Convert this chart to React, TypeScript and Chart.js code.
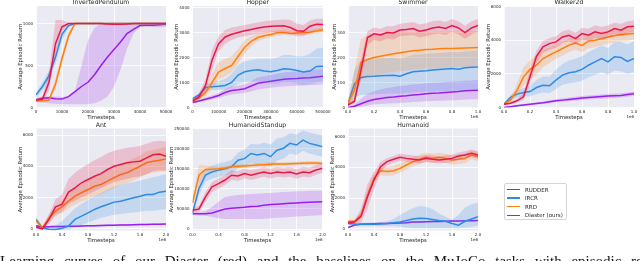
import React, { useEffect, useRef } from "react";
import { Chart, registerables } from "chart.js";
Chart.register(...registerables);

const METHODS = ["RUDDER", "IRCR", "RRD", "Diaster (ours)"];
const COLORS = ["#9A1EF0", "#2E8AE6", "#FF7F0E", "#E6194B"];
const BANDS = ["rgba(154,30,240,0.2)", "rgba(46,138,230,0.2)", "rgba(255,127,14,0.2)", "rgba(230,25,75,0.2)"];

// ---------- InvertedPendulum ----------
const ipX = [0, 2500, 5000, 7500, 10000, 12500, 15000, 17500, 20000, 22500, 25000, 27500, 30000, 32500, 35000, 37500, 40000, 42500, 45000, 47500, 50000];
const ipRudder = [90, 110, 115, 105, 100, 130, 190, 250, 300, 390, 500, 600, 690, 780, 880, 930, 975, 980, 980, 985, 990];
const ipRudderLo = [70, 60, 50, 45, 40, 40, 40, 40, 40, 50, 80, 130, 250, 450, 700, 880, 960, 960, 955, 955, 960];
const ipRudderHi = [110, 130, 135, 130, 125, 140, 200, 500, 800, 950, 1000, 1010, 1010, 1010, 1010, 1010, 1010, 1010, 1010, 1010, 1010];
const ipIrcr = [150, 250, 380, 600, 870, 975, 1000, 1000, 1000, 1000, 1000, 1000, 1000, 1000, 1000, 1000, 1000, 1000, 1000, 1000, 1000];
const ipIrcrLo = [120, 200, 320, 520, 800, 950, 995, 995, 995, 995, 995, 995, 995, 995, 995, 995, 995, 995, 995, 995, 995];
const ipIrcrHi = [180, 300, 440, 680, 940, 1000, 1005, 1005, 1005, 1005, 1005, 1005, 1005, 1005, 1005, 1005, 1005, 1005, 1005, 1005, 1005];
const ipRrd = [80, 80, 90, 280, 580, 850, 1000, 1000, 1000, 1000, 1000, 1000, 1000, 1000, 1000, 1000, 1000, 1000, 1000, 1000, 1000];
const ipRrdLo = [60, 60, 70, 220, 520, 800, 990, 995, 995, 995, 995, 995, 995, 995, 995, 995, 995, 995, 995, 995, 995];
const ipRrdHi = [100, 100, 110, 340, 640, 900, 1005, 1005, 1005, 1005, 1005, 1005, 1005, 1005, 1005, 1005, 1005, 1005, 1005, 1005, 1005];
const ipDia = [90, 100, 300, 760, 960, 1000, 1000, 1000, 1000, 1000, 1000, 995, 990, 990, 995, 1000, 1000, 1000, 1000, 1000, 1000];
const ipDiaLo = [70, 80, 200, 650, 920, 990, 995, 995, 995, 995, 995, 985, 980, 980, 985, 995, 995, 995, 995, 995, 995];
const ipDiaHi = [110, 130, 420, 1040, 1040, 1010, 1005, 1005, 1005, 1005, 1005, 1005, 1000, 1000, 1005, 1005, 1005, 1005, 1005, 1005, 1005];
const ipXTicks = [0, 10000, 20000, 30000, 40000, 50000];
const ipXLabels = ["0", "10000", "20000", "30000", "40000", "50000"];
const ipYTicks = [0, 500, 1000];
const ipYLabels = ["0", "500", "1000"];

// ---------- Hopper ----------
const hpX = [0, 25000, 50000, 75000, 100000, 125000, 150000, 175000, 200000, 225000, 250000, 275000, 300000, 325000, 350000, 375000, 400000, 425000, 450000, 475000, 500000];
const hpRudder = [200, 260, 330, 400, 480, 600, 680, 710, 750, 860, 970, 1010, 1050, 1090, 1130, 1150, 1160, 1180, 1190, 1220, 1250];
const hpRudderLo = [170, 220, 270, 320, 380, 460, 520, 550, 580, 650, 720, 760, 790, 820, 850, 860, 870, 880, 890, 910, 930];
const hpRudderHi = [230, 300, 400, 480, 580, 740, 840, 880, 930, 1060, 1200, 1250, 1300, 1350, 1400, 1430, 1440, 1460, 1480, 1520, 1560];
const hpIrcr = [350, 500, 800, 830, 850, 880, 1000, 1300, 1430, 1480, 1510, 1460, 1430, 1480, 1550, 1530, 1480, 1420, 1460, 1640, 1650];
const hpIrcrLo = [300, 420, 650, 700, 700, 720, 800, 950, 1000, 1050, 1050, 1000, 950, 950, 1000, 1000, 950, 900, 950, 1000, 1050];
const hpIrcrHi = [400, 600, 950, 1000, 1050, 1150, 1350, 1700, 1850, 1900, 1950, 1950, 1950, 2000, 2100, 2100, 2050, 2050, 2150, 2350, 2400];
const hpRrd = [300, 380, 600, 1000, 1420, 1560, 1680, 2050, 2410, 2650, 2800, 2870, 2920, 2990, 3000, 2960, 2980, 3000, 3010, 3060, 3100];
const hpRrdLo = [250, 300, 450, 750, 1100, 1250, 1400, 1750, 2150, 2450, 2650, 2750, 2800, 2880, 2900, 2870, 2890, 2900, 2920, 2960, 3000];
const hpRrdHi = [350, 460, 750, 1350, 1800, 1950, 2050, 2350, 2700, 2850, 2950, 3000, 3050, 3100, 3120, 3080, 3080, 3100, 3120, 3160, 3200];
const hpDia = [250, 420, 890, 1900, 2550, 2820, 2930, 3000, 3070, 3120, 3180, 3220, 3250, 3260, 3270, 3200, 3070, 3050, 3250, 3330, 3320];
const hpDiaLo = [200, 300, 650, 1500, 2250, 2550, 2700, 2800, 2850, 2900, 2950, 2980, 3000, 3000, 3000, 2950, 2850, 2850, 3000, 3100, 3100];
const hpDiaHi = [300, 550, 1150, 2300, 2850, 3100, 3200, 3250, 3300, 3350, 3400, 3450, 3480, 3500, 3520, 3500, 3350, 3300, 3480, 3550, 3550];
const hpXTicks = [0, 100000, 200000, 300000, 400000, 500000];
const hpXLabels = ["0", "100000", "200000", "300000", "400000", "500000"];
const hpYTicks = [0, 1000, 2000, 3000, 4000];
const hpYLabels = ["0", "1000", "2000", "3000", "4000"];

// ---------- Swimmer ----------
const swX = [0, 50000, 100000, 150000, 200000, 250000, 300000, 350000, 400000, 450000, 500000, 550000, 600000, 650000, 700000, 750000, 800000, 850000, 900000, 950000, 1000000];
const swRudder = [0, 5, 15, 25, 32, 36, 40, 42, 45, 47, 50, 52, 55, 57, 58, 60, 62, 64, 67, 68, 69];
const swRudderLo = [0, 0, 3, 8, 12, 14, 16, 17, 19, 20, 22, 23, 25, 26, 27, 28, 29, 30, 32, 33, 34];
const swRudderHi = [2, 12, 35, 55, 65, 72, 78, 82, 86, 88, 92, 94, 97, 99, 100, 102, 104, 105, 107, 108, 110];
const swIrcr = [15, 95, 120, 124, 125, 127, 128, 129, 125, 135, 143, 145, 147, 150, 152, 154, 156, 153, 159, 161, 162];
const swIrcrLo = [5, 40, 50, 52, 53, 54, 55, 56, 55, 58, 60, 62, 63, 64, 65, 66, 67, 67, 68, 69, 70];
const swIrcrHi = [25, 150, 190, 195, 196, 197, 198, 199, 196, 203, 210, 212, 214, 216, 218, 220, 222, 220, 224, 226, 228];
const swRrd = [15, 70, 180, 192, 200, 205, 210, 215, 219, 223, 227, 229, 232, 233, 235, 236, 236, 237, 238, 239, 240];
const swRrdLo = [5, 30, 110, 120, 128, 133, 138, 142, 145, 148, 151, 153, 155, 157, 158, 160, 161, 162, 163, 164, 165];
const swRrdHi = [25, 150, 275, 288, 294, 297, 299, 300, 301, 302, 302, 303, 303, 303, 304, 304, 304, 305, 305, 305, 305];
const swDia = [10, 25, 150, 280, 295, 290, 300, 298, 310, 312, 316, 305, 310, 318, 322, 316, 328, 318, 300, 318, 328];
const swDiaLo = [5, 15, 110, 250, 270, 265, 275, 272, 285, 287, 290, 280, 285, 292, 296, 290, 302, 292, 275, 292, 302];
const swDiaHi = [15, 35, 190, 305, 320, 315, 325, 325, 335, 338, 342, 332, 337, 345, 348, 342, 354, 345, 327, 345, 354];
const swXTicks = [0, 200000, 400000, 600000, 800000, 1000000];
const swXLabels = ["0.0", "0.2", "0.4", "0.6", "0.8", "1.0"];
const swYTicks = [0, 100, 200, 300];
const swYLabels = ["0", "100", "200", "300"];

// ---------- Walker2d ----------
const wkX = swX;
const wkRudder = [0, 50, 100, 150, 200, 240, 280, 340, 400, 440, 480, 520, 560, 590, 620, 650, 680, 700, 720, 770, 820];
const wkRudderLo = [0, 20, 60, 100, 140, 180, 210, 260, 310, 340, 370, 400, 440, 470, 500, 520, 550, 570, 590, 640, 690];
const wkRudderHi = [30, 90, 140, 200, 260, 300, 350, 420, 490, 540, 590, 640, 680, 710, 740, 780, 810, 830, 850, 900, 950];
const wkIrcr = [200, 600, 800, 900, 950, 1190, 1330, 1300, 1630, 1930, 2070, 2130, 2270, 2520, 2720, 2920, 2720, 3020, 2980, 2750, 2920];
const wkIrcrLo = [150, 450, 600, 650, 650, 800, 900, 850, 1100, 1350, 1450, 1500, 1600, 1800, 1950, 2100, 1950, 2200, 2150, 2000, 2100];
const wkIrcrHi = [250, 750, 1000, 1150, 1300, 1650, 1850, 1850, 2250, 2600, 2800, 2900, 3050, 3300, 3500, 3700, 3550, 3900, 3900, 3750, 3950];
const wkRrd = [200, 440, 1030, 1830, 2270, 2520, 2920, 3120, 3320, 3520, 3720, 3850, 3700, 3960, 4010, 4100, 4210, 4280, 4350, 4380, 4410];
const wkRrdLo = [150, 300, 700, 1300, 1700, 1950, 2400, 2650, 2900, 3100, 3300, 3450, 3300, 3550, 3600, 3700, 3800, 3900, 3950, 4000, 4050];
const wkRrdHi = [250, 600, 1400, 2400, 2800, 3100, 3450, 3600, 3750, 3950, 4100, 4250, 4100, 4350, 4400, 4500, 4600, 4650, 4700, 4750, 4800];
const wkDia = [200, 250, 400, 640, 1830, 3050, 3620, 3810, 3910, 4210, 4310, 4110, 4410, 4310, 4510, 4410, 4510, 4710, 4610, 4810, 4850];
const wkDiaLo = [150, 180, 300, 450, 1400, 2650, 3250, 3450, 3550, 3850, 3950, 3750, 4050, 3950, 4150, 4050, 4150, 4350, 4250, 4450, 4500];
const wkDiaHi = [250, 320, 500, 850, 2250, 3400, 3950, 4150, 4250, 4550, 4650, 4450, 4750, 4700, 4900, 4800, 4900, 5050, 5000, 5150, 5200];
const wkXTicks = swXTicks;
const wkXLabels = swXLabels;
const wkYTicks = [0, 2000, 4000, 6000];
const wkYLabels = ["0", "2000", "4000", "6000"];

// ---------- Ant ----------
const antX = [0, 100000, 200000, 300000, 400000, 500000, 600000, 700000, 800000, 900000, 1000000, 1100000, 1200000, 1300000, 1400000, 1500000, 1600000, 1700000, 1800000, 1900000, 2000000];
const antRudder = [200, 120, 130, 140, 150, 160, 170, 180, 190, 200, 210, 220, 230, 240, 250, 260, 270, 280, 290, 295, 300];
const antRudderLo = [150, 70, 80, 90, 100, 110, 120, 130, 140, 150, 160, 170, 180, 190, 200, 210, 220, 230, 240, 245, 250];
const antRudderHi = [250, 170, 180, 190, 200, 210, 220, 230, 240, 250, 260, 270, 280, 290, 300, 310, 320, 330, 340, 345, 350];
const antIrcr = [600, 50, -30, -50, 30, 170, 600, 810, 1020, 1240, 1410, 1560, 1710, 1770, 1880, 1990, 2090, 2200, 2200, 2350, 2410];
const antIrcrLo = [400, 0, -80, -80, -80, -50, 100, 250, 400, 550, 700, 800, 900, 950, 1000, 1050, 1100, 1150, 1150, 1200, 1250];
const antIrcrHi = [800, 150, 50, 200, 500, 900, 1300, 1600, 1850, 2100, 2300, 2500, 2700, 2800, 2900, 3000, 3100, 3200, 3300, 3400, 3500];
const antRrd = [500, 80, 700, 1130, 1410, 1770, 2090, 2310, 2520, 2730, 2840, 3060, 3270, 3480, 3590, 3800, 4010, 4230, 4330, 4400, 4480];
const antRrdLo = [400, 20, 450, 800, 1000, 1300, 1550, 1750, 1900, 2100, 2200, 2400, 2600, 2800, 2900, 3100, 3300, 3500, 3600, 3650, 3700];
const antRrdHi = [600, 150, 950, 1450, 1800, 2250, 2600, 2850, 3100, 3350, 3500, 3700, 3950, 4150, 4300, 4500, 4700, 4950, 5050, 5150, 5250];
const antDia = [100, 0, 600, 1410, 1560, 2350, 2630, 2950, 3160, 3370, 3540, 3800, 4010, 4120, 4230, 4290, 4330, 4550, 4750, 4800, 4650];
const antDiaLo = [0, -50, 300, 900, 1100, 1600, 1800, 2000, 2200, 2400, 2600, 2800, 3000, 3100, 3200, 3300, 3350, 3500, 3700, 3750, 3700];
const antDiaHi = [200, 100, 900, 1900, 2200, 3200, 3600, 3900, 4150, 4400, 4600, 4850, 5000, 5100, 5200, 5250, 5300, 5450, 5600, 5650, 5600];
const bigXTicks = [0, 400000, 800000, 1200000, 1600000, 2000000];
const bigXLabels = ["0.0", "0.4", "0.8", "1.2", "1.6", "2.0"];
const antYTicks = [0, 2000, 4000, 6000];
const antYLabels = ["0", "2000", "4000", "6000"];

// ---------- HumanoidStandup ----------
const hsX = antX;
const hsRudder = [38000, 38000, 38000, 40000, 45000, 50000, 52000, 53000, 54000, 56000, 57000, 59000, 61000, 62000, 63000, 64000, 65000, 66000, 67000, 67500, 68000];
const hsRudderLo = [35000, 34000, 33000, 30000, 27000, 25000, 25000, 25000, 25000, 25000, 25000, 26000, 27000, 28000, 29000, 30000, 31000, 32000, 33000, 34000, 35000];
const hsRudderHi = [41000, 42000, 45000, 55000, 68000, 80000, 83000, 85000, 86000, 87000, 88000, 89000, 90000, 91000, 92000, 93000, 94000, 94000, 95000, 95000, 95000];
const hsIrcr = [40000, 101000, 134000, 142000, 146500, 150000, 155000, 171000, 175000, 188000, 184000, 188000, 180000, 196000, 201000, 213000, 209000, 221000, 213000, 209000, 205000];
const hsIrcrLo = [35000, 85000, 118000, 125000, 130000, 133000, 138000, 152000, 155000, 165000, 160000, 163000, 155000, 170000, 175000, 188000, 184000, 195000, 188000, 184000, 180000];
const hsIrcrHi = [45000, 117000, 150000, 158000, 163000, 167000, 172000, 190000, 198000, 212000, 210000, 215000, 210000, 225000, 228000, 238000, 235000, 245000, 240000, 236000, 232000];
const hsRrd = [65000, 134000, 148000, 149000, 150000, 152000, 155000, 156000, 157000, 158000, 159000, 160000, 161000, 161500, 162000, 162500, 163000, 163500, 164000, 164000, 163000];
const hsRrdLo = [55000, 115000, 140000, 143000, 145000, 147000, 150000, 151000, 152000, 153000, 154000, 155000, 156000, 156500, 157000, 157500, 158000, 158500, 159000, 159000, 158000];
const hsRrdHi = [75000, 160000, 158000, 156000, 155000, 157000, 160000, 161000, 162000, 163000, 164000, 165000, 166000, 166500, 167000, 167500, 168000, 168500, 169000, 169000, 168000];
const hsDia = [47000, 50000, 80000, 105000, 113000, 122000, 134000, 132000, 138000, 134000, 138000, 142000, 138000, 142000, 140000, 142000, 137000, 142000, 140000, 147000, 151000];
const hsDiaLo = [40000, 42000, 68000, 93000, 100000, 110000, 122000, 120000, 126000, 122000, 126000, 130000, 126000, 130000, 128000, 130000, 125000, 130000, 128000, 135000, 140000];
const hsDiaHi = [54000, 58000, 92000, 117000, 126000, 134000, 146000, 144000, 150000, 146000, 150000, 154000, 150000, 154000, 152000, 154000, 149000, 154000, 152000, 159000, 162000];
const hsYTicks = [0, 50000, 100000, 150000, 200000, 250000];
const hsYLabels = ["0", "50000", "100000", "150000", "200000", "250000"];

// ---------- Humanoid ----------
const huX = antX;
const huRudder = [100, 250, 300, 320, 340, 350, 360, 370, 380, 400, 450, 460, 470, 480, 490, 500, 510, 520, 530, 540, 550];
const huRudderLo = [50, 200, 250, 270, 290, 300, 310, 320, 330, 350, 400, 410, 420, 430, 440, 450, 460, 470, 480, 490, 500];
const huRudderHi = [150, 300, 350, 370, 390, 400, 410, 420, 430, 450, 500, 510, 520, 530, 540, 550, 560, 570, 580, 590, 600];
const huIrcr = [350, 320, 300, 300, 310, 330, 350, 400, 450, 550, 650, 700, 680, 620, 550, 500, 350, 250, 500, 650, 800];
const huIrcrLo = [250, 220, 200, 200, 200, 200, 200, 200, 150, 100, 50, 50, 50, 50, 50, 50, 50, 50, 100, 150, 200];
const huIrcrHi = [450, 420, 400, 400, 420, 450, 500, 650, 900, 1150, 1350, 1500, 1450, 1300, 1000, 800, 600, 900, 1400, 1600, 1700];
const huRrd = [500, 500, 900, 2200, 3290, 3790, 3730, 3790, 3940, 4160, 4380, 4530, 4660, 4590, 4660, 4590, 4480, 4530, 4590, 4810, 4700];
const huRrdLo = [400, 400, 700, 1900, 3000, 3500, 3450, 3500, 3650, 3850, 4080, 4230, 4360, 4290, 4360, 4290, 4180, 4230, 4290, 4510, 4400];
const huRrdHi = [600, 600, 1100, 2500, 3600, 4100, 4030, 4100, 4250, 4450, 4680, 4830, 4960, 4900, 4960, 4900, 4780, 4830, 4900, 5110, 5000];
const huDia = [400, 450, 800, 2100, 3180, 4050, 4380, 4530, 4660, 4590, 4530, 4480, 4590, 4530, 4480, 4530, 4590, 4740, 4810, 4920, 4810];
const huDiaLo = [300, 350, 400, 1300, 2600, 3700, 4150, 4300, 4420, 4350, 4300, 4250, 4350, 4300, 4250, 4300, 4350, 4500, 4570, 4680, 4570];
const huDiaHi = [500, 550, 1300, 2900, 3700, 4350, 4600, 4750, 4900, 4830, 4770, 4720, 4830, 4770, 4720, 4770, 4830, 4980, 5050, 5160, 5050];
const huYTicks = [0, 2000, 4000, 6000];
const huYLabels = ["0", "2000", "4000", "6000"];

type Series = [number[], number[], number[]];
interface Panel {
  title: string;
  x: number[];
  series: Series[];
  xTicks: number[];
  xLabels: string[];
  yTicks: number[];
  yLabels: string[];
  xMax: number;
  yMin: number;
  yMax: number;
  offset: string;
  rect: { l: number; t: number; r: number; b: number };
  yLabelGap: number;
}

const TOP_T = 6, TOP_B = 107.5, BOT_T = 128.5, BOT_B = 230.5;

const PANELS: Panel[] = [
  { title: "InvertedPendulum", x: ipX, series: [[ipRudder, ipRudderLo, ipRudderHi], [ipIrcr, ipIrcrLo, ipIrcrHi], [ipRrd, ipRrdLo, ipRrdHi], [ipDia, ipDiaLo, ipDiaHi]],
    xTicks: ipXTicks, xLabels: ipXLabels, yTicks: ipYTicks, yLabels: ipYLabels, xMax: 50000, yMin: 0, yMax: 1208, offset: "",
    rect: { l: 36, t: TOP_T, r: 166, b: TOP_B }, yLabelGap: 15 },
  { title: "Hopper", x: hpX, series: [[hpRudder, hpRudderLo, hpRudderHi], [hpIrcr, hpIrcrLo, hpIrcrHi], [hpRrd, hpRrdLo, hpRrdHi], [hpDia, hpDiaLo, hpDiaHi]],
    xTicks: hpXTicks, xLabels: hpXLabels, yTicks: hpYTicks, yLabels: hpYLabels, xMax: 500000, yMin: 0, yMax: 4060, offset: "",
    rect: { l: 192.5, t: TOP_T, r: 323, b: TOP_B }, yLabelGap: 15.5 },
  { title: "Swimmer", x: swX, series: [[swRudder, swRudderLo, swRudderHi], [swIrcr, swIrcrLo, swIrcrHi], [swRrd, swRrdLo, swRrdHi], [swDia, swDiaLo, swDiaHi]],
    xTicks: swXTicks, xLabels: swXLabels, yTicks: swYTicks, yLabels: swYLabels, xMax: 1000000, yMin: 0, yMax: 406, offset: "1e6",
    rect: { l: 348, t: TOP_T, r: 478, b: TOP_B }, yLabelGap: 13 },
  { title: "Walker2d", x: wkX, series: [[wkRudder, wkRudderLo, wkRudderHi], [wkIrcr, wkIrcrLo, wkIrcrHi], [wkRrd, wkRrdLo, wkRrdHi], [wkDia, wkDiaLo, wkDiaHi]],
    xTicks: wkXTicks, xLabels: wkXLabels, yTicks: wkYTicks, yLabels: wkYLabels, xMax: 1000000, yMin: 0, yMax: 6053, offset: "1e6",
    rect: { l: 504, t: TOP_T, r: 634, b: TOP_B }, yLabelGap: 15.5 },
  { title: "Ant", x: antX, series: [[antRudder, antRudderLo, antRudderHi], [antIrcr, antIrcrLo, antIrcrHi], [antRrd, antRrdLo, antRrdHi], [antDia, antDiaLo, antDiaHi]],
    xTicks: bigXTicks, xLabels: bigXLabels, yTicks: antYTicks, yLabels: antYLabels, xMax: 2000000, yMin: -110, yMax: 6430, offset: "1e6",
    rect: { l: 36, t: BOT_T, r: 166, b: BOT_B }, yLabelGap: 15.5 },
  { title: "HumanoidStandup", x: hsX, series: [[hsRudder, hsRudderLo, hsRudderHi], [hsIrcr, hsIrcrLo, hsIrcrHi], [hsRrd, hsRrdLo, hsRrdHi], [hsDia, hsDiaLo, hsDiaHi]],
    xTicks: bigXTicks, xLabels: bigXLabels, yTicks: hsYTicks, yLabels: hsYLabels, xMax: 2000000, yMin: -3500, yMax: 250000, offset: "1e6",
    rect: { l: 192.5, t: BOT_T, r: 322.5, b: BOT_B }, yLabelGap: 20.5 },
  { title: "Humanoid", x: huX, series: [[huRudder, huRudderLo, huRudderHi], [huIrcr, huIrcrLo, huIrcrHi], [huRrd, huRrdLo, huRrdHi], [huDia, huDiaLo, huDiaHi]],
    xTicks: bigXTicks, xLabels: bigXLabels, yTicks: huYTicks, yLabels: huYLabels, xMax: 2000000, yMin: -100, yMax: 6533, offset: "1e6",
    rect: { l: 348, t: BOT_T, r: 478, b: BOT_B }, yLabelGap: 15 },
];

const FONT = '"DejaVu Sans", sans-serif';
const TEXT = "#262626";
const W = 640, H = 261;
const YW = 20, XH = 10;

function PanelChart({ p }: { p: Panel }) {
  const ref = useRef<HTMLCanvasElement>(null);
  useEffect(() => {
    if (!ref.current) return;
    const datasets: any[] = [];
    // Diaster first (drawn on top), RUDDER last (drawn first)
    for (const m of [3, 2, 1, 0]) {
      const [mean, lo, hi] = p.series[m];
      const base = datasets.length;
      datasets.push({
        label: METHODS[m],
        data: p.x.map((x, i) => ({ x, y: mean[i] })),
        borderColor: COLORS[m], borderWidth: 1.5, pointRadius: 0, fill: false, tension: 0,
      });
      datasets.push({
        label: METHODS[m] + " lo",
        data: p.x.map((x, i) => ({ x, y: lo[i] })),
        borderWidth: 0, borderColor: "rgba(0,0,0,0)", pointRadius: 0, fill: false,
      });
      datasets.push({
        label: METHODS[m] + " hi",
        data: p.x.map((x, i) => ({ x, y: hi[i] })),
        borderWidth: 0, borderColor: "rgba(0,0,0,0)", pointRadius: 0,
        fill: base + 1, backgroundColor: BANDS[m],
      });
    }
    const { l, t, r, b } = p.rect;
    const decor = {
      id: "decor",
      beforeDraw(chart: any) {
        const a = chart.chartArea;
        const ctx = chart.ctx;
        ctx.save();
        ctx.fillStyle = "#EAEAF2";
        ctx.fillRect(a.left, a.top, a.right - a.left, a.bottom - a.top);
        ctx.restore();
      },
      afterDraw(chart: any) {
        const a = chart.chartArea;
        const ctx = chart.ctx;
        ctx.save();
        ctx.fillStyle = TEXT;
        ctx.textAlign = "center";
        ctx.textBaseline = "middle";
        ctx.font = `6.2px ${FONT}`;
        ctx.fillText(p.title, (a.left + a.right) / 2, a.top - 3.2);
        ctx.font = `5.4px ${FONT}`;
        ctx.fillText("Timesteps", (a.left + a.right) / 2, a.bottom + 9.6);
        ctx.save();
        ctx.translate(a.left - p.yLabelGap, (a.top + a.bottom) / 2);
        ctx.rotate(-Math.PI / 2);
        ctx.fillText("Average Episodic Return", 0, 0);
        ctx.restore();
        if (p.offset) {
          ctx.font = `4px ${FONT}`;
          ctx.textAlign = "right";
          ctx.fillText(p.offset, a.right, a.bottom + 9);
        }
        ctx.restore();
      },
    };
    const chart = new Chart(ref.current, {
      type: "line",
      data: { datasets },
      options: {
        animation: false,
        responsive: false,
        devicePixelRatio: 1,
        events: [],
        layout: { padding: { left: l - YW, top: t, right: W - r, bottom: H - b - XH } },
        plugins: { legend: { display: false }, tooltip: { enabled: false }, title: { display: false } },
        scales: {
          x: {
            type: "linear", min: 0, max: p.xMax,
            afterBuildTicks: (s: any) => { s.ticks = p.xTicks.map((v) => ({ value: v })); },
            afterFit: (s: any) => { s.height = XH; },
            ticks: {
              callback: (v: any) => { const i = p.xTicks.indexOf(Number(v)); return i >= 0 ? p.xLabels[i] : ""; },
              font: { size: 4, family: FONT }, color: TEXT, padding: 2, maxRotation: 0, minRotation: 0, autoSkip: false,
            },
            grid: { color: "#ffffff", lineWidth: 0.8, drawTicks: false },
            border: { display: false },
          },
          y: {
            type: "linear", min: p.yMin, max: p.yMax,
            afterBuildTicks: (s: any) => { s.ticks = p.yTicks.map((v) => ({ value: v })); },
            afterFit: (s: any) => { s.width = YW; },
            ticks: {
              callback: (v: any) => { const i = p.yTicks.indexOf(Number(v)); return i >= 0 ? p.yLabels[i] : ""; },
              font: { size: 4, family: FONT }, color: TEXT, padding: 3, autoSkip: false,
            },
            grid: { color: "#ffffff", lineWidth: 0.8, drawTicks: false },
            border: { display: false },
          },
        },
      },
      plugins: [decor],
    } as any);
    return () => chart.destroy();
  }, [p]);
  return <canvas ref={ref} width={W} height={H} style={{ position: "absolute", left: 0, top: 0, width: W, height: H }} />;
}

function Legend() {
  return (
    <div style={{ position: "absolute", left: 504, top: 183, width: 63, height: 37, boxSizing: "border-box", border: "1px solid #d4d4d4", borderRadius: 2, background: "rgba(255,255,255,0.8)" }}>
      {METHODS.map((m, i) => (
        <div key={m} style={{ position: "absolute", left: 0, top: 1.5 + i * 8.6, height: 8, width: 61, display: "flex", alignItems: "center" }}>
          <div style={{ marginLeft: 2, width: 13, height: 1.5, background: COLORS[i] }} />
          <div style={{ marginLeft: 5, fontFamily: FONT, fontSize: 5.5, color: TEXT, whiteSpace: "nowrap", lineHeight: "8px" }}>{m}</div>
        </div>
      ))}
    </div>
  );
}

export default function App() {
  useEffect(() => { document.body.style.margin = "0"; }, []);
  return (
    <div style={{ position: "fixed", left: 0, top: 0, width: W, height: H, overflow: "hidden", background: "#ffffff" }}>
      {PANELS.map((p) => <PanelChart key={p.title} p={p} />)}
      <Legend />
      <div style={{ position: "absolute", left: 0, top: 253, fontFamily: '"Liberation Serif", serif', fontSize: 15, lineHeight: "17px", color: "#111", whiteSpace: "nowrap", wordSpacing: 6 }}>
        Learning curves of our Diaster (red) and the baselines on the MuJoCo tasks with episodic rewards.
      </div>
    </div>
  );
}
